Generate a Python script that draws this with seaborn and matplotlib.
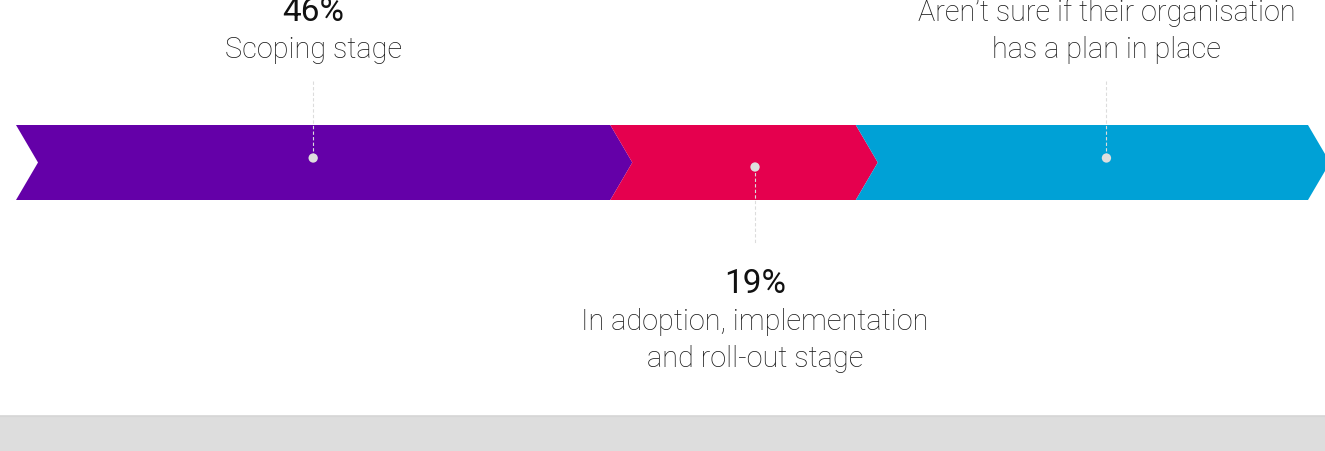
import matplotlib
matplotlib.use("Agg")
import matplotlib.pyplot as plt
from matplotlib.patches import Polygon, Rectangle
import seaborn as sns
import pandas as pd

# Données : part des répondants par stade
etapes = ["Scoping stage", "In adoption, implementation\nand roll-out stage",
          "Aren\u2019t sure if their organisation\nhas a plan in place"]
valeurs = [46, 19, 35]
couleurs = ["#6400a8", "#e5004e", "#00a1d6"]
position_label = ["haut", "bas", "haut"]
decalage = [0, 1.7, 1.9]

sns.set_theme(style="white")
plt.rcParams['font.family'] = ['Roboto', 'DejaVu Sans']

fig = plt.figure(figsize=(13.25, 4.52), dpi=100)
ax = fig.add_axes([0, 0, 1, 1])
px = 100 / 1292
ax.set_xlim(-16 * px, (1325 - 16) * px)
ax.set_ylim(452, 0)
ax.axis("off")

haut, bas = 126, 201
milieu = (haut + bas) / 2
d = 22 * px

# Les chevrons
debut = 0
centres = []
for i in range(len(valeurs)):
    fin = debut + valeurs[i]
    pts = [(debut, haut), (fin, haut), (fin + d, milieu), (fin, bas), (debut, bas), (debut + d, milieu)]
    ax.add_patch(Polygon(pts, closed=True, facecolor=couleurs[i], edgecolor="none"))
    centres.append(debut + valeurs[i] / 2 + decalage[i])
    debut = fin

# Points et lignes pointillées
df = pd.DataFrame({"x": centres, "y": [159 if p == "haut" else 168 for p in position_label]})
for i in range(len(valeurs)):
    if position_label[i] == "haut":
        ax.plot([centres[i], centres[i]], [82, 159], ls=(0, (3, 2)), lw=0.8, color="#dcdcdc", zorder=3)
    else:
        ax.plot([centres[i], centres[i]], [168, 245], ls=(0, (3, 2)), lw=0.8, color="#dcdcdc", zorder=3)
sns.scatterplot(data=df, x="x", y="y", ax=ax, s=45, color="#dedede", edgecolor="none", zorder=4, legend=False)

# Textes
for i in range(len(valeurs)):
    n_lignes = etapes[i].count("\n") + 1
    if position_label[i] == "haut":
        base_label = 58 - 37 * (n_lignes - 1)
        base_pct = base_label - 37
    else:
        base_pct = 293
        base_label = 330
    ax.text(centres[i], base_pct, str(valeurs[i]) + "%", ha="center", va="baseline",
            fontsize=24, color="#111111")
    for j, ligne in enumerate(etapes[i].split("\n")):
        ax.text(centres[i], base_label + 37 * j, ligne, ha="center", va="baseline",
                fontsize=20.8, fontweight="light", color="#1a1a1a")

# Bande grise en bas
ax.add_patch(Rectangle((-16 * px, 416), 120, 40, facecolor="#dddddd", edgecolor="none"))
ax.axhline(416.5, color="#d6d6d6", lw=0.8)

fig.savefig("out.png", dpi=100)
